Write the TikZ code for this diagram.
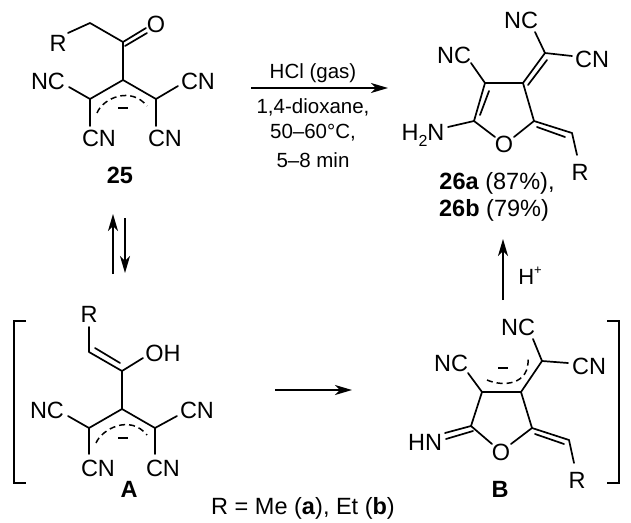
\documentclass[tikz,border=0pt]{standalone}
\usepackage{fontspec}
\setmainfont{Liberation Sans}
\usetikzlibrary{arrows.meta}
\newcommand{\atomfont}{\fontsize{23.5}{26}\selectfont}
\tikzset{
  atom/.style={inner sep=0pt,font=\atomfont,text=black},
  atombold/.style={inner sep=0pt,font=\atomfont\bfseries,text=black},
  cond/.style={inner sep=0pt,font=\fontsize{20.5}{24}\selectfont,text=black},
  bond/.style={line width=1.7pt,line cap=round,line join=round,black},
  deloc/.style={line width=1.5pt,dash pattern=on 6pt off 4pt,black},
  minusbar/.style={line width=1.4pt,black},
  rxn/.style={line width=1.6pt,black,-{Stealth[length=17pt,width=10pt,inset=5pt]}},
  brk/.style={line width=1.7pt,black}
}
\begin{document}
\begin{tikzpicture}[x=1pt,y=-1pt]
\useasboundingbox (0,0) rectangle (631,522);
% ---------- 25 ----------
\node[atom] (aR) at (58,43) {R};
\node[atom] (aO) at (156,24) {O};
\node[atom] (aNCl) at (48,81) {NC};
\node[atom] (aCNr) at (198,81) {CN};
\node[atom] (aCNa) at (99,138) {CN};
\node[atom] (aCNb) at (165,138) {CN};
\node[atombold] (aLab) at (120,175) {25};
\coordinate (a1) at (68,33);
\coordinate (a2) at (90,23);
\coordinate (a3) at (123,42);
\coordinate (a3o) at (146,28);
\coordinate (a3p) at (125,46);
\coordinate (a3q) at (147,33);
\coordinate (a4) at (123,80);
\coordinate (a5) at (90,99);
\coordinate (a6) at (156,99);
\coordinate (a7) at (69,87);
\coordinate (a8) at (178,86);
\coordinate (a9) at (90,126);
\coordinate (a10) at (156,126);
\draw[bond] (a1) -- (a2) -- (a3) -- (a4) -- (a5) -- (a7);
\draw[bond] (a3) -- (a3o);
\draw[bond] (a3p) -- (a3q);
\draw[bond] (a4) -- (a6) -- (a8);
\draw[bond] (a5) -- (a9);
\draw[bond] (a6) -- (a10);
\draw[deloc] (97,113) .. controls (103,98) and (131,86) .. (147,106);
\draw[minusbar] (118,108) -- (128,108);
% ---------- arrow with conditions ----------
\coordinate (r1) at (251,88);
\coordinate (r2) at (388,88);
\draw[rxn] (r1) -- (r2);
\node[cond] (t1) at (313,73) {HCl (gas)};
\node[cond] (t2) at (313,107) {1,4-dioxane,};
\node[cond] (t3) at (313,133) {50–60°C,};
\node[cond] (t4) at (313,160) {5–8 min};
% ---------- 26 ----------
\node[atom] (bNCt) at (521,20) {NC};
\node[atom] (bCN) at (592,59) {CN};
\node[atom] (bNCl) at (454,55) {NC};
\node[atom] (bNH) at (423,135) {H\raisebox{-0.25em}{\fontsize{16}{16}\selectfont 2}N};
\node[atom] (bO) at (504,144) {O};
\node[atom] (bR) at (580,172) {R};
\node[atom] (bl1) at (497,183) {\textbf{26a} (87\%),};
\node[atom] (bl2) at (494,210) {\textbf{26b} (79\%)};
\coordinate (b1) at (535,32);
\coordinate (b2) at (545,53);
\coordinate (b3) at (572,56);
\coordinate (b4) at (523,83);
\coordinate (b4p) at (528,85);
\coordinate (b2p) at (547,60);
\coordinate (b5) at (485,83);
\coordinate (b6) at (534,121);
\coordinate (b7) at (514,137);
\coordinate (b8) at (474,121);
\coordinate (b9) at (495,137);
\coordinate (b10) at (480,115);
\coordinate (b11) at (489,91);
\coordinate (b12) at (471,63);
\coordinate (b13) at (448,127);
\coordinate (b14) at (572,133);
\coordinate (b15) at (537,127);
\coordinate (b16) at (565,137);
\coordinate (b17) at (577,155);
\draw[bond] (b1) -- (b2) -- (b3);
\draw[bond] (b2) -- (b4) -- (b5) -- (b8) -- (b9);
\draw[bond] (b4p) -- (b2p);
\draw[bond] (b4) -- (b6) -- (b7);
\draw[bond] (b10) -- (b11);
\draw[bond] (b5) -- (b12);
\draw[bond] (b8) -- (b13);
\draw[bond] (b6) -- (b14) -- (b17);
\draw[bond] (b15) -- (b16);
% ---------- equilibrium ----------
\coordinate (e1) at (113,274);
\coordinate (e2) at (113,214);
\coordinate (e3) at (125,218);
\coordinate (e4) at (125,273);
\draw[rxn] (e1) -- (e2);
\draw[rxn] (e3) -- (e4);
% ---------- A ----------
\node[atom] (cR) at (89,314) {R};
\node[atom] (cOH) at (163,353) {OH};
\node[atom] (cNC) at (47,410) {NC};
\node[atom] (cCNr) at (197,410) {CN};
\node[atom] (cCNa) at (98,468) {CN};
\node[atom] (cCNb) at (163,468) {CN};
\node[atombold] (cLab) at (129,489) {A};
\coordinate (c1) at (89,327);
\coordinate (c2) at (89,352);
\coordinate (c3) at (122,371);
\coordinate (c2p) at (95,348);
\coordinate (c3p) at (120,363);
\coordinate (c4) at (143,358);
\coordinate (c5) at (122,409);
\coordinate (c6) at (89,428);
\coordinate (c7) at (155,428);
\coordinate (c8) at (68,416);
\coordinate (c9) at (177,416);
\coordinate (c10) at (89,454);
\coordinate (c11) at (155,454);
\draw[bond] (c1) -- (c2) -- (c3) -- (c4);
\draw[bond] (c2p) -- (c3p);
\draw[bond] (c3) -- (c5) -- (c6) -- (c8);
\draw[bond] (c5) -- (c7) -- (c9);
\draw[bond] (c6) -- (c10);
\draw[bond] (c7) -- (c11);
\draw[deloc] (96,443) .. controls (102,429) and (130,414) .. (147,435);
\draw[minusbar] (118,438) -- (128,438);
\coordinate (k1) at (26,321);
\coordinate (k2) at (14,321);
\coordinate (k3) at (14,483);
\coordinate (k4) at (26,483);
\draw[brk] (k1) -- (k2) -- (k3) -- (k4);
% ---------- A to B ----------
\coordinate (f1) at (275,390);
\coordinate (f2) at (352,390);
\draw[rxn] (f1) -- (f2);
\node[atom] (legend) at (303,508) {R = Me (\textbf{a}), Et (\textbf{b})};
% ---------- B ----------
\node[atom] (dNCt) at (518,327) {NC};
\node[atom] (dCN) at (589,366) {CN};
\node[atom] (dNCl) at (451,363) {NC};
\node[atom] (dHN) at (425,442) {HN};
\node[atom] (dO) at (501,452) {O};
\node[atom] (dR) at (577,480) {R};
\node[atombold] (dLab) at (500,489) {B};
\coordinate (d1) at (533,339);
\coordinate (d2) at (542,361);
\coordinate (d3) at (568,363);
\coordinate (d4) at (521,392);
\coordinate (d5) at (482,392);
\coordinate (d6) at (468,373);
\coordinate (d7) at (471,426);
\coordinate (d8) at (532,428);
\coordinate (d9) at (492,444);
\coordinate (d10) at (511,444);
\coordinate (d11) at (445,433);
\coordinate (d7p) at (473,431);
\coordinate (d11p) at (446,439);
\coordinate (d12) at (569,440);
\coordinate (d8p) at (535,434);
\coordinate (d12p) at (564,444);
\coordinate (d13) at (574,463);
\draw[bond] (d1) -- (d2) -- (d3);
\draw[bond] (d2) -- (d4) -- (d5) -- (d6);
\draw[bond] (d5) -- (d7) -- (d9);
\draw[bond] (d4) -- (d8) -- (d10);
\draw[bond] (d7) -- (d11);
\draw[bond] (d7p) -- (d11p);
\draw[bond] (d8) -- (d12) -- (d13);
\draw[bond] (d8p) -- (d12p);
\draw[deloc] (487,380) .. controls (503,387) and (530,385) .. (528,358);
\draw[minusbar] (498,368) -- (508,368);
\coordinate (m1) at (607,321);
\coordinate (m2) at (619,321);
\coordinate (m3) at (619,483);
\coordinate (m4) at (607,483);
\draw[brk] (m1) -- (m2) -- (m3) -- (m4);
% ---------- B to 26 ----------
\coordinate (g1) at (503,300);
\coordinate (g2) at (503,239);
\draw[rxn] (g1) -- (g2);
\node[cond,font=\fontsize{22}{24}\selectfont] (hp) at (530,276) {H\raisebox{0.45em}{\fontsize{13}{13}\selectfont +}};
\end{tikzpicture}
\end{document}
